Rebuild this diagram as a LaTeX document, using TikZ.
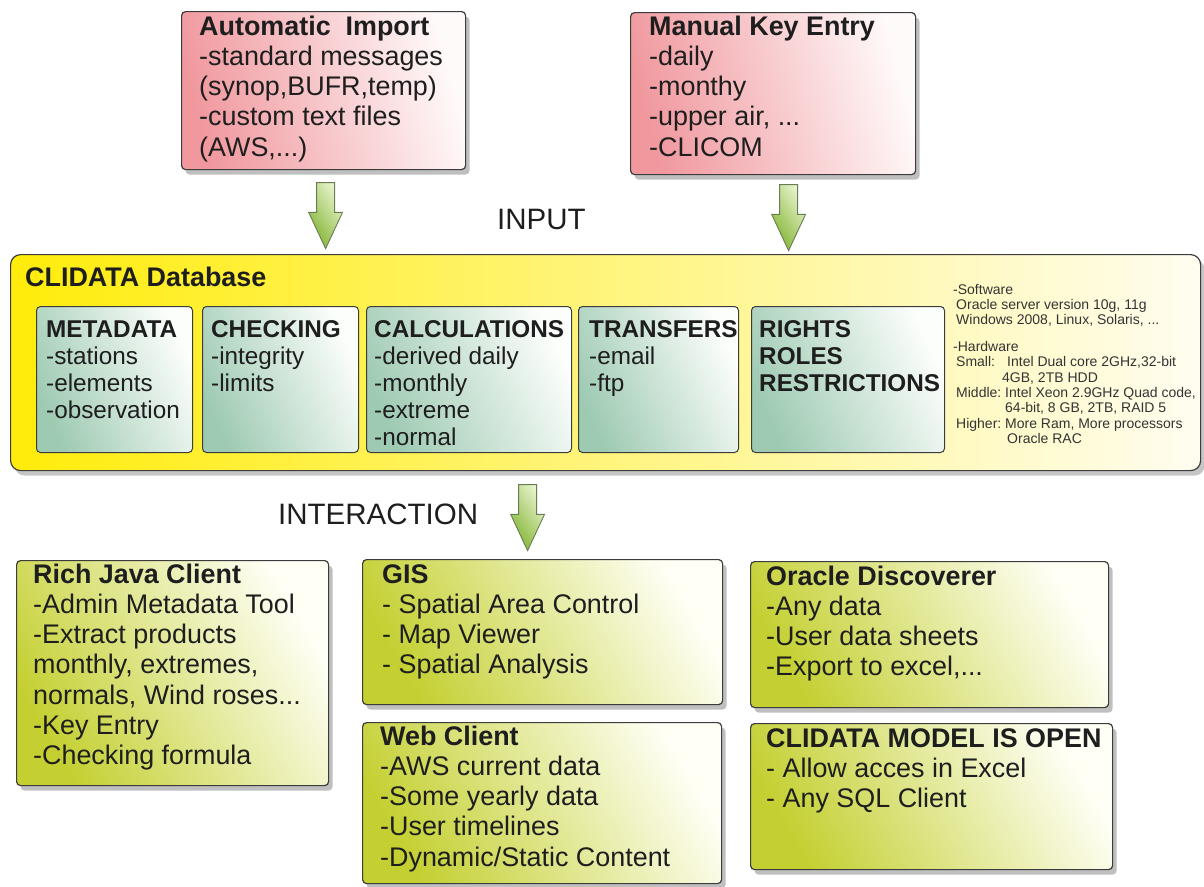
\documentclass[tikz,border=0pt]{standalone}
\usepackage{fontspec}
\setmainfont{Liberation Sans}
\usetikzlibrary{shapes.arrows,shadows,calc}

\definecolor{txt}{RGB}{30,30,30}
\definecolor{edge}{RGB}{60,60,60}
\definecolor{pinkL}{RGB}{240,152,158}
\definecolor{pinkR}{RGB}{255,250,250}
\definecolor{yelL}{RGB}{255,236,10}
\definecolor{yelM}{RGB}{255,246,150}
\definecolor{yelR}{RGB}{255,253,240}
\definecolor{grnL}{RGB}{158,202,178}
\definecolor{grnR}{RGB}{252,254,252}
\definecolor{olvL}{RGB}{196,208,50}
\definecolor{olvR}{RGB}{255,255,246}
\definecolor{arrL}{RGB}{130,180,50}
\definecolor{arrR}{RGB}{232,243,205}
\definecolor{arrE}{RGB}{105,125,85}

\newcommand{\lns}[1]{\begin{tabular}[t]{@{}l@{}}#1\end{tabular}}

\begin{document}
\begin{tikzpicture}[x=1pt,y=-1pt,text=txt,
  bigtext/.style={font=\fontsize{26.9}{30.3}\selectfont},
  midtext/.style={font=\fontsize{24.3}{27}\selectfont},
  labeltext/.style={font=\fontsize{29.5}{34}\selectfont, anchor=base west, inner sep=0pt},
  smalltext/.style={font=\fontsize{14}{15.3}\selectfont, text=black!80},
  boxtext/.style={anchor=base west, inner sep=0pt},
  panel/.style={draw=edge, line width=1.2pt, rounded corners=4pt, anchor=north west, inner sep=0pt},
  shadowed/.style={drop shadow={shadow xshift=4pt, shadow yshift=-5pt, fill=black!50}},
  redbox/.style={panel, shadowed, left color=pinkL, right color=pinkR, shading angle=105},
  dbbox/.style={panel, rounded corners=10pt, drop shadow={shadow xshift=4pt, shadow yshift=-5pt, fill=black!45}, left color=yelL, middle color=yelM, right color=yelR},
  grnbox/.style={panel, line width=1pt, left color=grnL, right color=grnR, shading angle=115},
  olvbox/.style={panel, shadowed, left color=olvL, right color=olvR, shading angle=120},
  bigarrow/.style={single arrow, draw=arrE, line width=0.9pt, minimum width=33pt, minimum height=66pt,
    single arrow head extend=8pt, single arrow tip angle=50, shape border rotate=270,
    inner xsep=8.5pt, inner ysep=0pt,
    left color=arrL, right color=arrR, shading angle=125}
]
\useasboundingbox (0,0) rectangle (1204,886);

% ---- input boxes
\node[redbox, minimum width=284pt, minimum height=158pt] (auto) at (181,11) {};
\node[boxtext, bigtext] (autot) at ($(auto.north west)+(18,24)$)
  {\lns{\textbf{Automatic\ \ Import}\\-standard messages\\(synop,BUFR,temp)\\-custom text files\\(AWS,...)}};

\node[redbox, minimum width=285pt, minimum height=162pt] (manual) at (630,12) {};
\node[boxtext, bigtext] (manualt) at ($(manual.north west)+(19,23)$)
  {\lns{\textbf{Manual Key Entry}\\-daily\\-monthy\\-upper air, ...\\-CLICOM}};

\node[labeltext] (input) at (497,229) {INPUT};

% ---- database
\node[dbbox, minimum width=1190pt, minimum height=216pt] (db) at (10,254) {};
\node[boxtext, bigtext] (dbt) at ($(db.north west)+(15,32)$) {\textbf{CLIDATA Database}};

\node[grnbox, minimum width=156pt, minimum height=146pt] (meta) at (36,306) {};
\node[boxtext, midtext] (metat) at ($(meta.north west)+(10,31)$)
  {\lns{\textbf{METADATA}\\-stations\\-elements\\-observation}};

\node[grnbox, minimum width=156pt, minimum height=146pt] (check) at (202,306) {};
\node[boxtext, midtext] (checkt) at ($(check.north west)+(9,31)$)
  {\lns{\textbf{CHECKING}\\-integrity\\-limits}};

\node[grnbox, minimum width=205pt, minimum height=146pt] (calc) at (366,306) {};
\node[boxtext, midtext] (calct) at ($(calc.north west)+(8,31)$)
  {\lns{\textbf{CALCULATIONS}\\-derived daily\\-monthly\\-extreme\\-normal}};

\node[grnbox, minimum width=160pt, minimum height=146pt] (trans) at (578,306) {};
\node[boxtext, midtext] (transt) at ($(trans.north west)+(11,31)$)
  {\lns{\textbf{TRANSFERS}\\-email\\-ftp}};

\node[grnbox, minimum width=193pt, minimum height=146pt] (rights) at (751,306) {};
\node[boxtext, midtext] (rightst) at ($(rights.north west)+(8,31)$)
  {\lns{\textbf{RIGHTS}\\\textbf{ROLES}\\\textbf{RESTRICTIONS}}};

\node[boxtext, smalltext] (spec) at (953,294)
  {\lns{-Software\\
   \hspace*{3pt}Oracle server version 10g, 11g\\
   \hspace*{3pt}Windows 2008, Linux, Solaris, ...\\[11.7pt]
   -Hardware\\
   \hspace*{3pt}\makebox[51pt][l]{Small:}Intel Dual core 2GHz,32-bit\\
   \hspace*{49pt}4GB, 2TB HDD\\
   \hspace*{3pt}\makebox[49pt][l]{Middle:}Intel Xeon 2.9GHz Quad code,\\
   \hspace*{52pt}64-bit, 8 GB, 2TB, RAID 5\\
   \hspace*{3pt}\makebox[49pt][l]{Higher:}More Ram, More processors\\
   \hspace*{54pt}Oracle RAC}};

% ---- arrows
\node[bigarrow, anchor=tail] (a1) at ($(auto.south)+(2,12)$) {};
\node[bigarrow, anchor=tail] (a2) at ($(manual.south)+(15.5,9)$) {};
\node[bigarrow, anchor=tail] (a3) at ($(db.south)+(-78,13)$) {};

\node[labeltext] (inter) at (278,524) {INTERACTION};

% ---- clients
\node[olvbox, minimum width=312pt, minimum height=225pt] (rich) at (16,560) {};
\node[boxtext, bigtext] (richt) at ($(rich.north west)+(17,23)$)
  {\lns{\textbf{Rich Java Client}\\-Admin Metadata Tool\\-Extract products\\monthly, extremes,\\normals, Wind roses...\\-Key Entry\\-Checking formula}};

\node[olvbox, minimum width=360pt, minimum height=145pt] (gis) at (362,559) {};
\node[boxtext, bigtext] (gist) at ($(gis.north west)+(20,24)$)
  {\lns{\textbf{GIS}\\- Spatial Area Control\\- Map Viewer\\- Spatial Analysis}};

\node[olvbox, minimum width=359pt, minimum height=161pt] (web) at (362,722) {};
\node[boxtext, bigtext] (webt) at ($(web.north west)+(18,23)$)
  {\lns{\textbf{Web Client}\\-AWS current data\\-Some yearly data\\-User timelines\\-Dynamic/Static Content}};

\node[olvbox, minimum width=358pt, minimum height=146pt] (oracle) at (750,561) {};
\node[boxtext, bigtext] (oraclet) at ($(oracle.north west)+(16,24)$)
  {\lns{\textbf{Oracle Discoverer}\\-Any data\\-User data sheets\\-Export to excel,...}};

\node[olvbox, minimum width=362pt, minimum height=146pt] (open) at (750,723) {};
\node[boxtext, bigtext] (opent) at ($(open.north west)+(16,24)$)
  {\lns{\textbf{CLIDATA MODEL IS OPEN}\\- Allow acces in Excel\\- Any SQL Client}};
\end{tikzpicture}
\end{document}
